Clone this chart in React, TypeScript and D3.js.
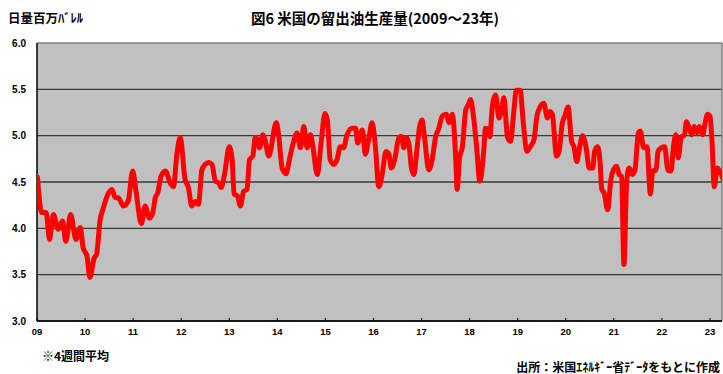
import React from "react";
import * as d3 from "d3";

// Distillate production, 4-week average (million barrels per day), time in fractional years
const periods = [
  2009.01, 2009.10, 2009.19, 2009.26, 2009.34, 2009.44, 2009.53, 2009.60, 2009.70, 2009.81,
  2009.90, 2009.96, 2010.04, 2010.10, 2010.19, 2010.24, 2010.31, 2010.38, 2010.46, 2010.56,
  2010.63, 2010.69, 2010.80, 2010.90, 2010.99, 2011.06, 2011.17, 2011.25, 2011.34, 2011.41,
  2011.46, 2011.51, 2011.58, 2011.67, 2011.77, 2011.84, 2011.91, 2011.98, 2012.08, 2012.15,
  2012.22, 2012.29, 2012.36, 2012.43, 2012.50, 2012.57, 2012.64, 2012.71, 2012.78, 2012.83,
  2012.90, 2013.00, 2013.06, 2013.10, 2013.17, 2013.23, 2013.30, 2013.37, 2013.42, 2013.49,
  2013.54, 2013.59, 2013.63, 2013.70, 2013.75, 2013.82, 2013.88, 2013.92, 2013.98, 2014.03,
  2014.10, 2014.18, 2014.25, 2014.33, 2014.41, 2014.48, 2014.55, 2014.62, 2014.69, 2014.74,
  2014.83, 2014.91, 2014.99, 2015.04, 2015.10, 2015.17, 2015.24, 2015.31, 2015.38, 2015.45,
  2015.56, 2015.63, 2015.67, 2015.77, 2015.83, 2015.90, 2015.97, 2016.04, 2016.11, 2016.18,
  2016.26, 2016.32, 2016.37, 2016.44, 2016.53, 2016.58, 2016.63, 2016.69, 2016.74, 2016.79,
  2016.84, 2016.91, 2016.96, 2017.01, 2017.06, 2017.15, 2017.22, 2017.29, 2017.36, 2017.43,
  2017.52, 2017.57, 2017.64, 2017.71, 2017.74, 2017.79, 2017.85, 2017.92, 2017.97, 2018.02,
  2018.08, 2018.15, 2018.21, 2018.29, 2018.33, 2018.38, 2018.42, 2018.47, 2018.54, 2018.61,
  2018.67, 2018.71, 2018.79, 2018.85, 2018.92, 2018.97, 2019.05, 2019.12, 2019.19, 2019.26,
  2019.34, 2019.40, 2019.44, 2019.54, 2019.62, 2019.67, 2019.72, 2019.81, 2019.86, 2019.93,
  2019.98, 2020.05, 2020.12, 2020.17, 2020.23, 2020.28, 2020.35, 2020.42, 2020.49, 2020.56,
  2020.60, 2020.66, 2020.71, 2020.75, 2020.80, 2020.87, 2020.94, 2020.99, 2021.06, 2021.11,
  2021.16, 2021.21, 2021.27, 2021.32, 2021.39, 2021.44, 2021.51, 2021.55, 2021.62, 2021.69,
  2021.76, 2021.81, 2021.88, 2021.92, 2021.99, 2022.06, 2022.12, 2022.19, 2022.24, 2022.29,
  2022.34, 2022.40, 2022.47, 2022.51, 2022.57, 2022.62, 2022.67, 2022.73, 2022.78, 2022.85,
  2022.90, 2022.95, 2023.00, 2023.04, 2023.09, 2023.15, 2023.22, 2023.27,
];

const production = [
  4.55, 4.17, 4.17, 3.88, 4.15, 3.99, 4.08, 3.86, 4.15, 3.88,
  4.01, 3.79, 3.70, 3.47, 3.68, 3.72, 4.08, 4.22, 4.35, 4.42,
  4.33, 4.33, 4.24, 4.30, 4.62, 4.40, 4.05, 4.24, 4.11, 4.17,
  4.33, 4.38, 4.56, 4.62, 4.49, 4.45, 4.80, 4.98, 4.53, 4.44,
  4.24, 4.29, 4.26, 4.63, 4.69, 4.71, 4.69, 4.51, 4.49, 4.44,
  4.58, 4.88, 4.74, 4.37, 4.35, 4.24, 4.40, 4.42, 4.74, 4.78,
  4.98, 4.96, 4.87, 5.01, 4.94, 4.78, 4.89, 5.03, 5.14, 4.99,
  4.65, 4.59, 4.74, 4.92, 5.03, 4.87, 5.10, 4.87, 5.01, 4.88,
  4.58, 4.92, 5.24, 5.17, 4.74, 4.69, 4.74, 4.88, 4.87, 5.01,
  5.08, 5.08, 4.92, 5.06, 4.80, 4.96, 5.14, 4.88, 4.45, 4.58,
  4.83, 4.80, 4.65, 4.74, 4.98, 4.99, 4.87, 4.98, 4.90, 4.65,
  4.58, 4.88, 5.10, 5.17, 4.99, 4.63, 4.74, 4.98, 5.08, 5.21,
  5.23, 5.14, 5.23, 4.76, 4.42, 4.76, 4.88, 5.28, 5.33, 5.39,
  5.21, 4.85, 4.51, 4.81, 5.08, 5.06, 4.99, 5.30, 5.44, 5.19,
  5.30, 5.41, 4.98, 4.94, 5.26, 5.49, 5.49, 5.12, 4.83, 4.88,
  4.96, 5.21, 5.28, 5.35, 5.19, 5.26, 5.23, 4.78, 4.83, 5.14,
  5.21, 5.31, 4.94, 4.88, 4.72, 4.85, 5.00, 4.88, 4.65, 4.65,
  4.83, 4.88, 4.74, 4.42, 4.38, 4.20, 4.53, 4.63, 4.67, 4.58,
  4.56, 3.61, 4.53, 4.65, 4.58, 4.63, 5.03, 5.05, 4.87, 4.88,
  4.37, 4.62, 4.63, 4.83, 4.87, 4.88, 4.63, 4.62, 4.88, 5.01,
  4.76, 4.98, 5.01, 5.15, 5.08, 5.01, 5.10, 5.03, 5.10, 5.01,
  5.14, 5.23, 5.21, 4.96, 4.45, 4.65, 4.60, 4.53,
];

const yearTicks = [2009, 2010, 2011, 2012, 2013, 2014, 2015, 2016, 2017, 2018, 2019, 2020, 2021, 2022, 2023];
const yearLabels = ["09", "10", "11", "12", "13", "14", "15", "16", "17", "18", "19", "20", "21", "22", "23"];
const valueTicks = [3.0, 3.5, 4.0, 4.5, 5.0, 5.5, 6.0];

const titleText = "図6 米国の留出油生産量(2009～23年)";
const unitText = "日量百万ﾊﾞﾚﾙ";
const noteText = "※4週間平均";
const sourceText = "出所：米国ｴﾈﾙｷﾞｰ省ﾃﾞｰﾀをもとに作成";

const W = 723;
const H = 374;
const plot = { left: 37, right: 722, top: 43, bottom: 321 };

const numFont = "'Liberation Sans', Arial, sans-serif";
const jpFont = "'Noto Sans CJK JP', 'Noto Sans', sans-serif";

export default function App() {
  const x = d3.scaleLinear().domain([2009, 2023.25]).range([plot.left, plot.right]);
  const y = d3.scaleLinear().domain([3, 6]).range([plot.bottom, plot.top]);

  const series = periods.map((t, i) => ({ t, v: production[i] }));
  const line = d3
    .line<{ t: number; v: number }>()
    .x((d) => x(d.t))
    .y((d) => y(d.v))
    .curve(d3.curveMonotoneX);

  return (
    <svg
      width={W}
      height={H}
      viewBox={`0 0 ${W} ${H}`}
      style={{ position: "absolute", left: 0, top: 0, background: "#ffffff" }}
    >
      <defs>
        <clipPath id="plot-clip">
          <rect x={plot.left} y={plot.top - 3} width={plot.right - plot.left} height={plot.bottom - plot.top + 3} />
        </clipPath>
      </defs>

      {/* plot background */}
      <rect
        x={plot.left}
        y={plot.top}
        width={plot.right - plot.left}
        height={plot.bottom - plot.top}
        fill="#c0c0c0"
      />

      {/* horizontal gridlines */}
      {valueTicks.map((v) => (
        <line
          key={v}
          x1={plot.left}
          x2={plot.right}
          y1={y(v)}
          y2={y(v)}
          stroke={v === 6 ? "#808080" : "#3a3a3a"}
          strokeWidth={v === 6 ? 1.5 : 1.3}
        />
      ))}

      {/* right border */}
      <line x1={plot.right} x2={plot.right} y1={plot.top} y2={plot.bottom} stroke="#808080" strokeWidth={1.5} />

      {/* axes */}
      <line x1={plot.left} x2={plot.left} y1={plot.top} y2={plot.bottom} stroke="#000" strokeWidth={1.5} />
      <line x1={plot.left} x2={plot.right} y1={plot.bottom} y2={plot.bottom} stroke="#000" strokeWidth={1.5} />

      {/* x ticks (inside) and labels */}
      {yearTicks.map((t, i) => (
        <g key={t}>
          <line x1={x(t)} x2={x(t)} y1={plot.bottom} y2={plot.bottom - 3} stroke="#000" strokeWidth={1} />
          <text
            x={x(t)}
            y={335}
            textAnchor="middle"
            fontFamily={numFont}
            fontWeight="bold"
            fontSize={9.5}
            fill="#000"
          >
            {yearLabels[i]}
          </text>
        </g>
      ))}

      {/* y labels */}
      {valueTicks.map((v) => (
        <text
          key={v}
          x={26}
          y={y(v) + 3.5}
          textAnchor="end"
          fontFamily={numFont}
          fontWeight="bold"
          fontSize={10}
          fill="#000"
        >
          {d3.format(".1f")(v)}
        </text>
      ))}

      {/* data line */}
      <path
        d={line(series) ?? ""}
        fill="none"
        stroke="#ff0000"
        strokeWidth={5}
        strokeLinejoin="round"
        strokeLinecap="round"
        clipPath="url(#plot-clip)"
      />

      {/* texts */}
      <text x={375} y={24} textAnchor="middle" fontFamily={jpFont} fontWeight="bold" fontSize={14.5} fill="#000">
        {titleText}
      </text>
      <text x={8} y={23} fontFamily={jpFont} fontWeight="bold" fontSize={12.5} fill="#000">
        {unitText}
      </text>
      <text x={42} y={361} fontFamily={jpFont} fontWeight="bold" fontSize={12} fill="#000">
        {noteText}
      </text>
      <text x={720} y={372} textAnchor="end" fontFamily={jpFont} fontWeight="bold" fontSize={12} fill="#000">
        {sourceText}
      </text>
    </svg>
  );
}
